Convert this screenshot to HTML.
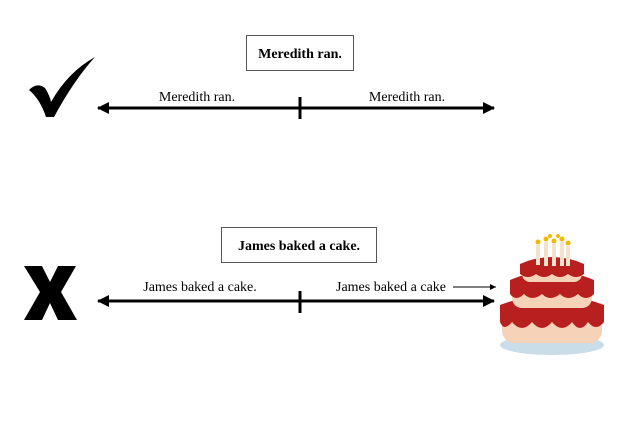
<!DOCTYPE html>
<html><head><style>
body{margin:0;background:#fff;width:634px;height:416px;overflow:hidden;font-family:"Liberation Serif",serif;}
</style></head><body>
<svg width="634" height="416" xmlns="http://www.w3.org/2000/svg" font-family="Liberation Serif, serif">
<defs>
<marker id="ah" markerWidth="12" markerHeight="12" refX="11" refY="6" orient="auto-start-reverse" markerUnits="userSpaceOnUse"><path d="M0,0 L12,6 L0,12 z" fill="#000"/></marker>
<marker id="sh" markerWidth="6" markerHeight="6" refX="6" refY="3" orient="auto" markerUnits="userSpaceOnUse"><path d="M0,0 L6,3 L0,6 z" fill="#000"/></marker>
</defs>
<rect x="246.5" y="35.5" width="107" height="35" fill="#fff" stroke="#555"/>
<text x="300" y="58" text-anchor="middle" font-size="14" font-weight="bold">Meredith ran.</text>
<path d="M29,90 Q37,82 45,88 Q50,96 51,102 Q68,72 95,57 Q74,80 54,117 L46,117 Q40,99 29,90z" fill="#000"/>
<line x1="98" y1="108" x2="494" y2="108" stroke="#000" stroke-width="3" marker-start="url(#ah)" marker-end="url(#ah)"/>
<line x1="300" y1="97" x2="300" y2="119" stroke="#000" stroke-width="3"/>
<text x="197" y="101" text-anchor="middle" font-size="14">Meredith ran.</text>
<text x="407" y="101" text-anchor="middle" font-size="14">Meredith ran.</text>

<rect x="221.5" y="227.5" width="155" height="35" fill="#fff" stroke="#555"/>
<text x="299" y="250" text-anchor="middle" font-size="14" font-weight="bold">James baked a cake.</text>
<path d="M24,266 L42,266 L50,282 L58,266 L76,266 L61,292 L77,320 L58,320 L50,303 L42,320 L24,320 L40,292z" fill="#000"/>
<line x1="98" y1="301" x2="494" y2="301" stroke="#000" stroke-width="3" marker-start="url(#ah)" marker-end="url(#ah)"/>
<line x1="300" y1="291" x2="300" y2="313" stroke="#000" stroke-width="3"/>
<text x="200" y="291" text-anchor="middle" font-size="14">James baked a cake.</text>
<text x="391" y="291" text-anchor="middle" font-size="14">James baked a cake</text>
<line x1="453" y1="287" x2="496" y2="287" stroke="#000" stroke-width="1" marker-end="url(#sh)"/>

<ellipse cx="552" cy="345" rx="52" ry="10" fill="#c8dde8"/>
<rect x="502" y="305" width="100" height="38" rx="12" fill="#f6d3b8"/>
<path d="M500,305 Q552,285 604,305 L604,322 Q596,332 588,322 Q580,334 572,322 Q562,334 552,322 Q542,334 532,322 Q522,334 512,322 Q504,332 500,322z" fill="#b81f1f"/>
<rect x="512" y="278" width="80" height="30" rx="10" fill="#f6d3b8"/>
<path d="M510,280 Q552,262 594,280 L594,294 Q586,302 578,294 Q568,302 560,294 Q550,302 542,294 Q532,302 524,294 Q516,302 510,294z" fill="#b81f1f"/>
<rect x="522" y="260" width="60" height="22" rx="8" fill="#f6d3b8"/>
<path d="M520,264 Q552,250 584,264 L584,274 Q576,280 568,274 Q560,280 552,274 Q544,280 536,274 Q528,280 520,274z" fill="#b81f1f"/>
<g fill="#f3e3cc"><rect x="536" y="245" width="4" height="20"/><rect x="544" y="242" width="4" height="24"/><rect x="552" y="244" width="4" height="22"/><rect x="560" y="242" width="4" height="24"/><rect x="566" y="246" width="4" height="20"/></g>
<g fill="#f5b800"><circle cx="538" cy="242" r="2.5"/><circle cx="546" cy="239" r="2.5"/><circle cx="554" cy="241" r="2.5"/><circle cx="562" cy="239" r="2.5"/><circle cx="568" cy="243" r="2.5"/><circle cx="550" cy="236" r="2"/><circle cx="558" cy="236" r="2"/></g>
</svg>
</body></html>
